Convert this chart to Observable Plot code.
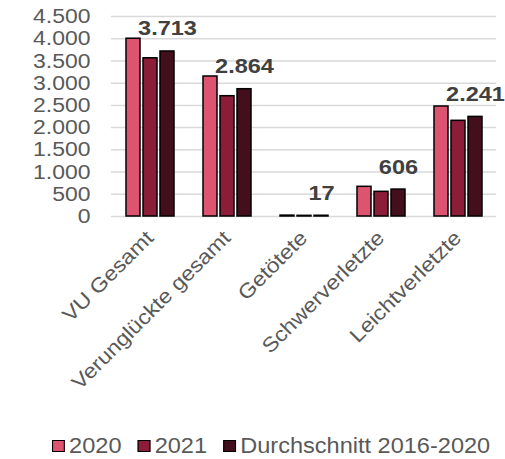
<!DOCTYPE html>
<html>
<head>
<meta charset="utf-8">
<script src="https://cdn.jsdelivr.net/npm/d3@7"></script>
<script src="https://cdn.jsdelivr.net/npm/@observablehq/plot@0.6"></script>
<style>
  html, body { margin: 0; padding: 0; background: #fff; }
  #wrap { position: relative; width: 505px; height: 459px; overflow: hidden; font-family: "Liberation Sans", Arial, sans-serif; }
  #legend { position: absolute; left: 52px; top: 433px; display: flex; align-items: center; font-size: 22px; line-height: 26px; color: #595959; white-space: nowrap; transform: scaleX(1.07); transform-origin: 0 50%; }
  .item { display: flex; align-items: center; margin-right: 15px; }
  .sw { width: 10px; height: 10px; border: 1.5px solid #000; margin-right: 4px; }
</style>
</head>
<body>
<div id="wrap"><div id="chart"></div><div id="legend"></div></div>
<script>
const categories = ["VU Gesamt", "Verunglückte gesamt", "Getötete", "Schwerverletzte", "Leichtverletzte"];
const series = ["2020", "2021", "Durchschnitt 2016-2020"];
const values2020 = [4000, 3150, 20, 668, 2475];
const values2021 = [3560, 2707, 15, 555, 2153];
const valuesAvg = [3713, 2864, 17, 606, 2241];
const yTicks = [0, 500, 1000, 1500, 2000, 2500, 3000, 3500, 4000, 4500];
const colors = ["#dc5470", "#8b1d38", "#440f1d"];

const seriesValues = [values2020, values2021, valuesAvg];
const data = categories.flatMap((c, i) => series.map((s, j) => ({category: c, series: s, value: seriesValues[j][i]})));

const fmt = d3.formatLocale({decimal: ",", thousands: ".", grouping: [3], currency: ["", "€"]}).format(",d");

const chart = Plot.plot({
  width: 505,
  height: 400,
  marginTop: 16,
  marginBottom: 184,
  marginLeft: 110,
  marginRight: 8,
  style: {fontFamily: "'Liberation Sans', Arial, sans-serif", background: "#fff"},
  fx: {domain: categories, padding: 0, label: null},
  x: {domain: series, paddingInner: 0.2, paddingOuter: 0.858, axis: null},
  y: {domain: [0, 4500], label: null},
  color: {domain: series, range: colors},
  marks: [
    Plot.ruleY(yTicks, {stroke: "#d9d9d9", strokeWidth: 1.5}),
    Plot.barY(data, {fx: "category", x: "series", y: "value", fill: "series", stroke: "#000", strokeWidth: 1.5}),
    Plot.text(data.filter(d => d.series === series[2]), {
      fx: "category", x: "series", y: "value", text: d => fmt(d.value),
      dy: -16, lineAnchor: "bottom", fontWeight: "bold", fontSize: 21, fill: "#404040"
    }),
    Plot.axisY(yTicks, {tickSize: 0, tickPadding: 21, tickFormat: fmt, fontSize: 20.5, color: "#595959", label: null}),
    Plot.axisFx({anchor: "bottom", tickRotate: -45, tickSize: 0, tickPadding: 18, fontSize: 20.5, color: "#595959", label: null})
  ]
});
document.getElementById("chart").appendChild(chart);

// widen glyphs slightly to match the reference rendering
chart.querySelectorAll("text").forEach(t => {
  const len = t.getComputedTextLength();
  if (len > 0) {
    t.setAttribute("textLength", (len * 1.12).toFixed(1));
    t.setAttribute("lengthAdjust", "spacingAndGlyphs");
  }
});

const legend = document.getElementById("legend");
series.forEach((s, i) => {
  const item = document.createElement("div");
  item.className = "item";
  const sw = document.createElement("div");
  sw.className = "sw";
  sw.style.background = colors[i];
  const label = document.createElement("span");
  label.textContent = s;
  item.appendChild(sw);
  item.appendChild(label);
  legend.appendChild(item);
});
</script>
</body>
</html>
